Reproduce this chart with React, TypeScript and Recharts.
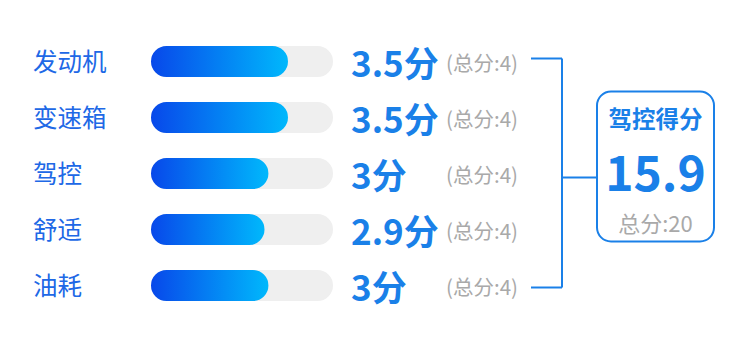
import React from 'react';
import { BarChart, Bar, XAxis, YAxis, LabelList } from 'recharts';

const categories = ['发动机', '变速箱', '驾控', '舒适', '油耗'];
const scores = [3.5, 3.5, 3, 2.9, 3];
const maxScores = [4, 4, 4, 4, 4];
const unitText = '分';
const totalLabel = '总分';
const summaryTitle = '驾控得分';

const data = categories.map((name, i) => ({ name, score: scores[i], max: maxScores[i] }));
const totalScore = scores.reduce((a, b) => a + b, 0);
const totalMax = maxScores.reduce((a, b) => a + b, 0);

const FONT = '"Noto Sans CJK SC", "Noto Sans", sans-serif';
const BLUE = '#1a80e8';
const LABEL_BLUE = '#2068e6';
const GRAY = '#a9a9a9';

const W = 750;
const H = 339;

const CategoryTick = (props: any) => {
  const { y, payload } = props;
  return (
    <text x={33} y={y - 1} dominantBaseline="central" textAnchor="start" fontFamily={FONT} fontSize={24.5} fill={LABEL_BLUE}>
      {payload.value}
    </text>
  );
};

const bracket: { first: number | null } = { first: null };

const ScoreLabel = (props: any) => {
  const vb = props.viewBox || props;
  const y = Number(vb.y) + Number(vb.height) / 2;
  const index = props.index;
  const value = props.value;
  if (index === 0) bracket.first = y;
  const isLast = index === data.length - 1;
  const lineX1 = 531;
  const lineX2 = 562;
  const boxX = 597;
  const boxW = 117;
  let extra: React.ReactNode = null;
  if (isLast && bracket.first != null) {
    const y0 = bracket.first;
    const mid = (y0 + y) / 2;
    const boxTop = mid - 82;
    const boxH = 150;
    const cx = boxX + boxW / 2;
    extra = (
      <g>
        <line x1={lineX2} x2={lineX2} y1={y0 - 3} y2={y + 2} stroke={BLUE} strokeWidth={2} />
        <line x1={lineX1} x2={lineX2} y1={y0 - 3} y2={y0 - 3} stroke={BLUE} strokeWidth={2} />
        <line x1={lineX2} x2={boxX} y1={mid + 4} y2={mid + 4} stroke={BLUE} strokeWidth={2} />
        <rect x={boxX} y={boxTop} width={boxW} height={boxH} rx={14} ry={14} fill="#fff" stroke={BLUE} strokeWidth={2} />
        <text x={cx} y={boxTop + 26} textAnchor="middle" dominantBaseline="central" fontFamily={FONT} fontSize={23.5} fontWeight={700} fill={BLUE}>
          {summaryTitle}
        </text>
        <text x={cx} y={boxTop + 78.5} textAnchor="middle" dominantBaseline="central" fontFamily={FONT} fontSize={48} fontWeight={700} fill={BLUE}>
          {totalScore.toFixed(1)}
        </text>
        <text x={cx} y={boxTop + 130} textAnchor="middle" dominantBaseline="central" fontFamily={FONT} fontSize={22} fill={GRAY}>
          {`${totalLabel}:${totalMax}`}
        </text>
      </g>
    );
  }
  return (
    <g>
      <text x={351} y={y} dominantBaseline="central" textAnchor="start" fontFamily={FONT} fontSize={35} fontWeight={700} fill={BLUE}>
        {`${value}${unitText}`}
      </text>
      <text x={446} y={y} dominantBaseline="central" textAnchor="start" fontFamily={FONT} fontSize={20.5} fill={GRAY}>
        {`(${totalLabel}:${data[index].max})`}
      </text>
      {isLast ? (
        <line x1={lineX1} x2={lineX2} y1={y + 2} y2={y + 2} stroke={BLUE} strokeWidth={2} />
      ) : null}
      {extra}
    </g>
  );
};

export default function App() {
  return (
    <div style={{ position: 'absolute', left: 0, top: 0, width: W, height: H, background: '#fff' }}>
      <BarChart
        width={W}
        height={H}
        data={data}
        layout="vertical"
        margin={{ top: 33, right: 417, bottom: 26, left: 0 }}
        barSize={31}
      >
        <defs>
          <linearGradient id="barGrad" x1="0" y1="0" x2="1" y2="0">
            <stop offset="0%" stopColor="#0848ea" />
            <stop offset="100%" stopColor="#00b8fc" />
          </linearGradient>
        </defs>
        <XAxis type="number" domain={[0, 4.65]} hide />
        <YAxis
          type="category"
          dataKey="name"
          width={151}
          axisLine={false}
          tickLine={false}
          tick={<CategoryTick />}
        />
        <Bar
          dataKey="score"
          fill="url(#barGrad)"
          radius={15.5}
          background={{ fill: '#efefef', radius: 15.5 }}
          isAnimationActive={false}
        >
          <LabelList dataKey="score" content={<ScoreLabel />} />
        </Bar>
      </BarChart>
    </div>
  );
}
